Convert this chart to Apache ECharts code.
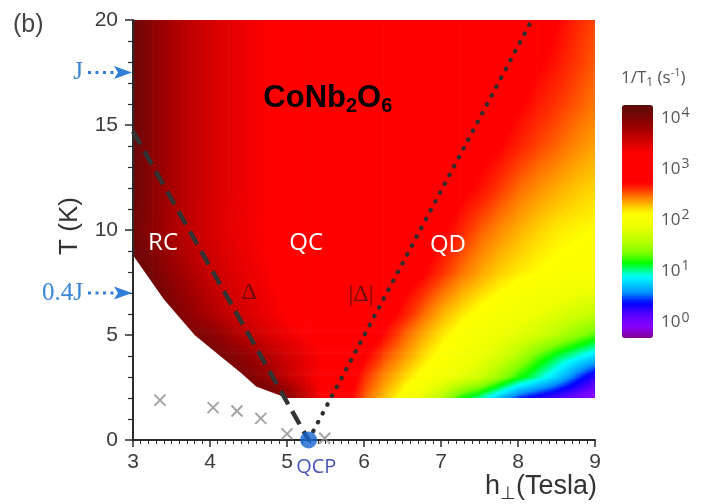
<!DOCTYPE html>
<html>
<head>
<meta charset="utf-8">
<script src="https://cdn.jsdelivr.net/npm/echarts@6.0.0/dist/echarts.min.js"></script>
<style>
  html, body { margin: 0; padding: 0; background: #fff; }
  #chart { width: 710px; height: 504px; }
</style>
</head>
<body>
<div id="chart"></div>
<script>
// Transverse field columns (Tesla) and temperature rows (K) of the 1/T1 map
const fieldH = [3.00, 3.25, 3.50, 3.75, 4.00, 4.25, 4.50, 4.75, 5.00, 5.25, 5.50, 5.75,
                6.00, 6.25, 6.50, 6.75, 7.00, 7.25, 7.50, 7.75, 8.00, 8.25, 8.50, 8.75, 9.00];
const rowT = [2, 3, 4, 5, 6, 8, 10, 12, 14, 16, 18, 20];

// log10(1/T1 [s^-1]) along each temperature row
const rate2K  = [4.2, 4.2, 4.2, 4.2, 4.2, 4.2, 4.2, 4.2, 3.95, 3.62, 3.26, 2.85, 2.52, 2.30, 2.10, 1.85, 1.58, 1.20, 1.00, 0.72, 0.44, 0.30, 0.18, 0.06, -0.10];
const rate3K  = [4.2, 4.2, 4.2, 4.2, 4.2, 4.1, 4.0, 3.84, 3.62, 3.44, 3.26, 2.92, 2.62, 2.42, 2.25, 2.10, 1.96, 1.84, 1.70, 1.46, 1.20, 1.00, 0.78, 0.50, 0.25];
const rate4K  = [4.2, 4.2, 4.2, 4.2, 4.1, 4.0, 3.86, 3.70, 3.55, 3.42, 3.30, 3.10, 2.76, 2.56, 2.40, 2.23, 2.10, 1.98, 1.88, 1.76, 1.56, 1.30, 1.10, 0.95, 0.80];
const rate5K  = [4.2, 4.2, 4.2, 4.05, 3.95, 3.78, 3.62, 3.50, 3.40, 3.32, 3.20, 3.05, 2.88, 2.72, 2.52, 2.35, 2.20, 2.08, 1.98, 1.90, 1.82, 1.72, 1.58, 1.42, 1.28];
const rate6K  = [4.2, 4.2, 4.05, 3.87, 3.72, 3.60, 3.50, 3.40, 3.30, 3.20, 3.10, 3.00, 2.92, 2.82, 2.68, 2.50, 2.33, 2.20, 2.10, 2.02, 1.95, 1.88, 1.80, 1.72, 1.64];
const rate8K  = [4.2, 4.05, 3.86, 3.71, 3.59, 3.49, 3.41, 3.33, 3.24, 3.15, 3.07, 3.00, 2.95, 2.90, 2.84, 2.76, 2.62, 2.48, 2.36, 2.26, 2.19, 2.14, 2.11, 2.09, 2.07];
const rate10K = [4.1, 3.90, 3.74, 3.62, 3.52, 3.44, 3.37, 3.30, 3.22, 3.14, 3.06, 3.00, 2.98, 2.95, 2.90, 2.84, 2.76, 2.65, 2.52, 2.42, 2.33, 2.25, 2.19, 2.16, 2.14];
const rate12K = [4.15, 3.92, 3.76, 3.63, 3.53, 3.45, 3.38, 3.32, 3.25, 3.18, 3.10, 3.05, 3.00, 2.96, 2.92, 2.88, 2.83, 2.78, 2.70, 2.60, 2.49, 2.41, 2.34, 2.28, 2.24];
const rate14K = [4.15, 3.92, 3.76, 3.63, 3.53, 3.45, 3.38, 3.32, 3.25, 3.18, 3.10, 3.05, 3.00, 2.97, 2.94, 2.91, 2.87, 2.83, 2.79, 2.74, 2.65, 2.57, 2.50, 2.42, 2.36];
const rate16K = [4.15, 3.92, 3.76, 3.63, 3.53, 3.45, 3.38, 3.32, 3.25, 3.18, 3.10, 3.05, 3.00, 2.98, 2.96, 2.94, 2.92, 2.89, 2.85, 2.80, 2.75, 2.67, 2.60, 2.53, 2.46];
const rate18K = [4.15, 3.92, 3.76, 3.63, 3.53, 3.45, 3.38, 3.32, 3.25, 3.18, 3.10, 3.05, 3.00, 3.00, 2.98, 2.96, 2.94, 2.92, 2.90, 2.87, 2.82, 2.75, 2.68, 2.60, 2.52];
const rate20K = [4.15, 3.92, 3.76, 3.63, 3.53, 3.45, 3.38, 3.32, 3.25, 3.18, 3.10, 3.05, 3.00, 3.00, 3.00, 2.98, 2.96, 2.94, 2.92, 2.90, 2.87, 2.82, 2.74, 2.64, 2.56];
const rateRows = [rate2K, rate3K, rate4K, rate5K, rate6K, rate8K, rate10K, rate12K, rate14K, rate16K, rate18K, rate20K];

// Lower edge of the measured region (field, temperature)
const edgeH = [3.0, 3.4, 3.8, 4.1, 4.4, 4.6, 4.85, 5.0];
const edgeT = [8.8, 6.7, 5.0, 4.1, 3.2, 2.55, 2.2, 2.0];

// Crossover lines: gap Delta (renormalized classical side) and |Delta| (quantum disordered side)
const gapLineH = [3.0, 5.28];
const gapLineT = [14.7, 0];
const absGapLineH = [5.28, 8.18];
const absGapLineT = [0, 20];

// Low-temperature ordering points and the quantum critical point
const orderH = [3.35, 4.04, 4.35, 4.66, 5.00, 5.49];
const orderT = [1.90, 1.54, 1.38, 1.03, 0.29, 0.08];
const qcpH = 5.28;

// Exchange scale J (K)
const exchangeJ = 17.5;

// Colour scale for log10(1/T1)
const scaleV = [-0.3, -0.07, 0.12, 0.38, 0.58, 0.90, 1.16, 1.36, 1.62, 1.88, 2.14, 2.34, 2.46, 2.60, 2.73, 3.31, 3.57, 3.83, 4.25];
const scaleC = ['#800090', '#8800ff', '#6000ff', '#0000ff', '#0090ff', '#00ffff', '#00ff00', '#80ff00', '#c0ff00',
                '#eeff00', '#ffff00', '#ffaa00', '#ff7700', '#ff3300', '#ff0000', '#ff0000', '#cc0000', '#990000', '#5a0a0a'];
const scaleMin = -0.3, scaleMax = 4.25;
const colorbarExp = [4, 3, 2, 1, 0];

const scaleRGB = scaleC.map(c => [parseInt(c.slice(1, 3), 16), parseInt(c.slice(3, 5), 16), parseInt(c.slice(5, 7), 16)]);
function rateColor(v) {
  if (v <= scaleV[0]) return scaleC[0];
  if (v >= scaleV[scaleV.length - 1]) return scaleC[scaleC.length - 1];
  let i = 0;
  while (v > scaleV[i + 1]) i++;
  const f = (v - scaleV[i]) / (scaleV[i + 1] - scaleV[i]);
  const a = scaleRGB[i], b = scaleRGB[i + 1];
  const r = Math.round(a[0] + (b[0] - a[0]) * f);
  const g = Math.round(a[1] + (b[1] - a[1]) * f);
  const bl = Math.round(a[2] + (b[2] - a[2]) * f);
  return 'rgb(' + r + ',' + g + ',' + bl + ')';
}

// Map cells: each spans two neighbouring columns and rows with its four corner values
const cells = [];
for (let i = 0; i < rowT.length - 1; i++) {
  for (let j = 0; j < fieldH.length - 1; j++) {
    cells.push([fieldH[j], fieldH[j + 1], rowT[i], rowT[i + 1],
                rateRows[i][j], rateRows[i][j + 1], rateRows[i + 1][j], rateRows[i + 1][j + 1]]);
  }
}

const barColors = [];
for (let k = 0; k <= 90; k++) barColors.push(rateColor(scaleMin + (scaleMax - scaleMin) * k / 90));

function renderCell(params, api) {
  const h0 = api.value(0), h1 = api.value(1), t0 = api.value(2), t1 = api.value(3);
  const vBL = api.value(4), vBR = api.value(5), vTL = api.value(6), vTR = api.value(7);
  const pTL = api.coord([h0, t1]);
  const pBR = api.coord([h1, t0]);
  const x = pTL[0], y = pTL[1];
  const w = pBR[0] - pTL[0], hgt = pBR[1] - pTL[1];
  const n = Math.max(1, Math.round(hgt / 2));
  const lastCol = h1 >= fieldH[fieldH.length - 1];
  const firstRow = t0 <= rowT[0];
  const children = [];
  for (let k = 0; k < n; k++) {
    const f = (k + 0.5) / n;
    const vl = vTL + (vBL - vTL) * f;
    const vr = vTR + (vBR - vTR) * f;
    const stops = [];
    for (let s = 0; s <= 8; s++) {
      const g = s / 8;
      stops.push({ offset: g, color: rateColor(vl + (vr - vl) * g) });
    }
    const extraH = (firstRow && k === n - 1) ? 0 : 0.6;
    children.push({
      type: 'rect',
      shape: { x: x, y: y + hgt * k / n, width: w + (lastCol ? 0 : 0.6), height: hgt / n + extraH },
      style: { fill: { type: 'linear', x: 0, y: 0, x2: 1, y2: 0, colorStops: stops } },
      silent: true
    });
  }
  return { type: 'group', children: children };
}

const maskPts = edgeH.map((h, i) => [h, edgeT[i]]).concat([[2.99, edgeT[edgeT.length - 1]], [2.99, edgeT[0]]]);

const chart = echarts.init(document.getElementById('chart'), null, { renderer: 'canvas' });

const tickFont = 'Liberation Sans, Arial, sans-serif';

chart.setOption({
  animation: false,
  backgroundColor: '#fff',
  grid: { left: 133, right: 115, top: 20, bottom: 64, containLabel: false, outerBoundsMode: 'none' },
  xAxis: {
    type: 'value', min: 3, max: 9, interval: 1, z: 3,
    axisLine: { show: true, onZero: false, lineStyle: { color: '#2b2b2b', width: 2 } },
    axisTick: { show: true, length: 7, lineStyle: { color: '#2b2b2b', width: 1.5 } },
    minorTick: { show: true, splitNumber: 10, length: 4, lineStyle: { color: '#2b2b2b', width: 1 } },
    splitLine: { show: false },
    axisLabel: { fontSize: 21, color: '#3c3c3c', margin: 12, fontFamily: tickFont }
  },
  yAxis: {
    type: 'value', min: 0, max: 20, interval: 5, z: 3,
    axisLine: { show: true, onZero: false, lineStyle: { color: '#2b2b2b', width: 2 } },
    axisTick: { show: true, length: 8, lineStyle: { color: '#2b2b2b', width: 1.5 } },
    minorTick: { show: true, splitNumber: 5, length: 5, lineStyle: { color: '#2b2b2b', width: 1.2 } },
    splitLine: { show: false },
    axisLabel: { fontSize: 21, color: '#3c3c3c', margin: 15, fontFamily: tickFont }
  },
  visualMap: {
    type: 'continuous', min: scaleMin, max: scaleMax, seriesIndex: 0, dimension: 4,
    orient: 'vertical', left: 622, top: 105, itemWidth: 31, itemHeight: 233,
    padding: 0, calculable: false, text: null, hoverLink: false,
    inRange: { color: barColors }
  },
  series: [
    {
      type: 'custom', name: '1/T1', data: cells, renderItem: renderCell,
      clip: true, z: 1, silent: true
    },
    {
      type: 'custom', name: 'edge', data: [[0]], z: 2, silent: true, clip: true,
      renderItem: (params, api) => ({
        type: 'polygon',
        shape: { points: maskPts.map(p => api.coord(p)) },
        style: { fill: '#ffffff' }
      })
    },
    {
      type: 'line', name: 'Delta', data: gapLineH.map((h, i) => [h, gapLineT[i]]),
      symbol: 'none', z: 4, silent: true, clip: true,
      lineStyle: { color: '#333', width: 4.5, type: [15, 8] }
    },
    {
      type: 'line', name: '|Delta|', data: absGapLineH.map((h, i) => [h, absGapLineT[i]]),
      symbol: 'none', z: 4, silent: true, clip: true,
      lineStyle: { color: '#2e2e2e', width: 4.2, type: [0.5, 9.5], cap: 'round' }
    },
    {
      type: 'scatter', name: 'order', data: orderH.map((h, i) => [h, orderT[i]]),
      symbol: 'path://M0,0L10,10M10,0L0,10', symbolSize: 11, z: 5, silent: true, clip: false,
      itemStyle: { color: 'rgba(0,0,0,0)', borderColor: '#8c8c8c', borderWidth: 2 }
    },
    {
      type: 'scatter', name: 'QCP', data: [[qcpH, 0]],
      symbol: 'circle', symbolSize: 17, z: 6, silent: true, clip: false,
      itemStyle: { color: '#1766cf' }
    }
  ]
});

function at(h, t) { return chart.convertToPixel({ gridIndex: 0 }, [h, t]); }

const g = [];
function addText(x, y, text, style) {
  g.push({ type: 'text', x: x, y: y, z: 100, silent: true,
           style: Object.assign({ text: text, align: 'center', verticalAlign: 'middle' }, style) });
}

// Panel tag
addText(13, 25, '(b)', { align: 'left', fontSize: 25, fill: '#444', fontFamily: tickFont });

// Axis titles
g.push({ type: 'text', x: 70, y: 226, rotation: Math.PI / 2, z: 100, silent: true,
         style: { text: 'T (K)', align: 'center', verticalAlign: 'middle', fontSize: 26, fill: '#333', fontFamily: tickFont } });
addText(597, 487, '{a|h}{s|⊥}{a|(Tesla)}', {
  align: 'right', fill: '#333',
  rich: {
    a: { fontSize: 27, fontFamily: tickFont, fill: '#333', lineHeight: 32 },
    s: { fontSize: 18, fontFamily: tickFont, fill: '#333', lineHeight: 32, padding: [15, 0, 0, 0] }
  }
});

// Colour bar title and decade labels
addText(621, 78, '{a|1/T}{s|1}{a| (s}{p|-1}{a|)}', {
  align: 'left', fill: '#555',
  rich: {
    a: { fontSize: 17, fontFamily: 'Open Sans, sans-serif', fill: '#555', lineHeight: 22 },
    s: { fontSize: 12, fontFamily: 'Open Sans, sans-serif', fill: '#555', lineHeight: 22, padding: [9, 0, 0, 0] },
    p: { fontSize: 11, fontFamily: 'Open Sans, sans-serif', fill: '#555', lineHeight: 22, padding: [0, 0, 10, 0] }
  }
});
colorbarExp.forEach(e => {
  const yy = 105 + (scaleMax - e) / (scaleMax - scaleMin) * 233;
  addText(661, yy, '{a|10}{p|' + e + '}', {
    align: 'left', fill: '#555',
    rich: {
      a: { fontSize: 17, fontFamily: 'Open Sans, sans-serif', fill: '#555', lineHeight: 22 },
      p: { fontSize: 14, fontFamily: 'Open Sans, sans-serif', fill: '#555', lineHeight: 22, padding: [0, 0, 10, 1] }
    }
  });
});

// Exchange-scale markers on the temperature axis
function scaleArrow(t, label) {
  const p = at(3, t);
  const y = p[1], xa = p[0];
  g.push({ type: 'line', z: 100, silent: true,
           shape: { x1: xa - 45, y1: y, x2: xa - 19, y2: y },
           style: { stroke: '#2f7fd8', lineWidth: 3, lineDash: [3, 4.5] } });
  g.push({ type: 'polygon', z: 100, silent: true,
           shape: { points: [[xa - 1, y], [xa - 19, y - 6.5], [xa - 15, y], [xa - 19, y + 6.5]] },
           style: { fill: '#2f7fd8' } });
  addText(xa - 50, y, label, { align: 'right', fontSize: 25, fill: '#3a86d8', fontFamily: 'Liberation Serif, Times New Roman, serif' });
}
scaleArrow(exchangeJ, 'J');
scaleArrow(0.4 * exchangeJ, '0.4J');

// Regime labels
let p;
p = at(5.53, 16.25);
addText(p[0], p[1], '{a|CoNb}{s|2}{a|O}{s|6}', {
  rich: {
    a: { fontSize: 31, fontWeight: 'bold', fontFamily: tickFont, fill: '#000', lineHeight: 38 },
    s: { fontSize: 20, fontWeight: 'bold', fontFamily: tickFont, fill: '#000', lineHeight: 38, padding: [15, 0, 0, 0] }
  }
});
const regimeStyle = { fontSize: 24, fill: '#fff', fontFamily: 'Open Sans, sans-serif' };
p = at(3.39, 9.38); addText(p[0], p[1], 'RC', regimeStyle);
p = at(5.25, 9.38); addText(p[0], p[1], 'QC', regimeStyle);
p = at(7.09, 9.3); addText(p[0], p[1], 'QD', regimeStyle);
const gapStyle = { fontSize: 24, fill: '#6e0c0c', fontFamily: 'Liberation Serif, serif' };
p = at(4.51, 7.0); addText(p[0], p[1], 'Δ', gapStyle);
p = at(5.96, 6.9); addText(p[0], p[1], '|Δ|', gapStyle);
p = at(5.38, 0); addText(p[0], p[1] + 27, 'QCP', { fontSize: 20, fill: '#4a56b6', fontFamily: 'Open Sans, sans-serif' });

chart.setOption({ graphic: g });
</script>
</body>
</html>
